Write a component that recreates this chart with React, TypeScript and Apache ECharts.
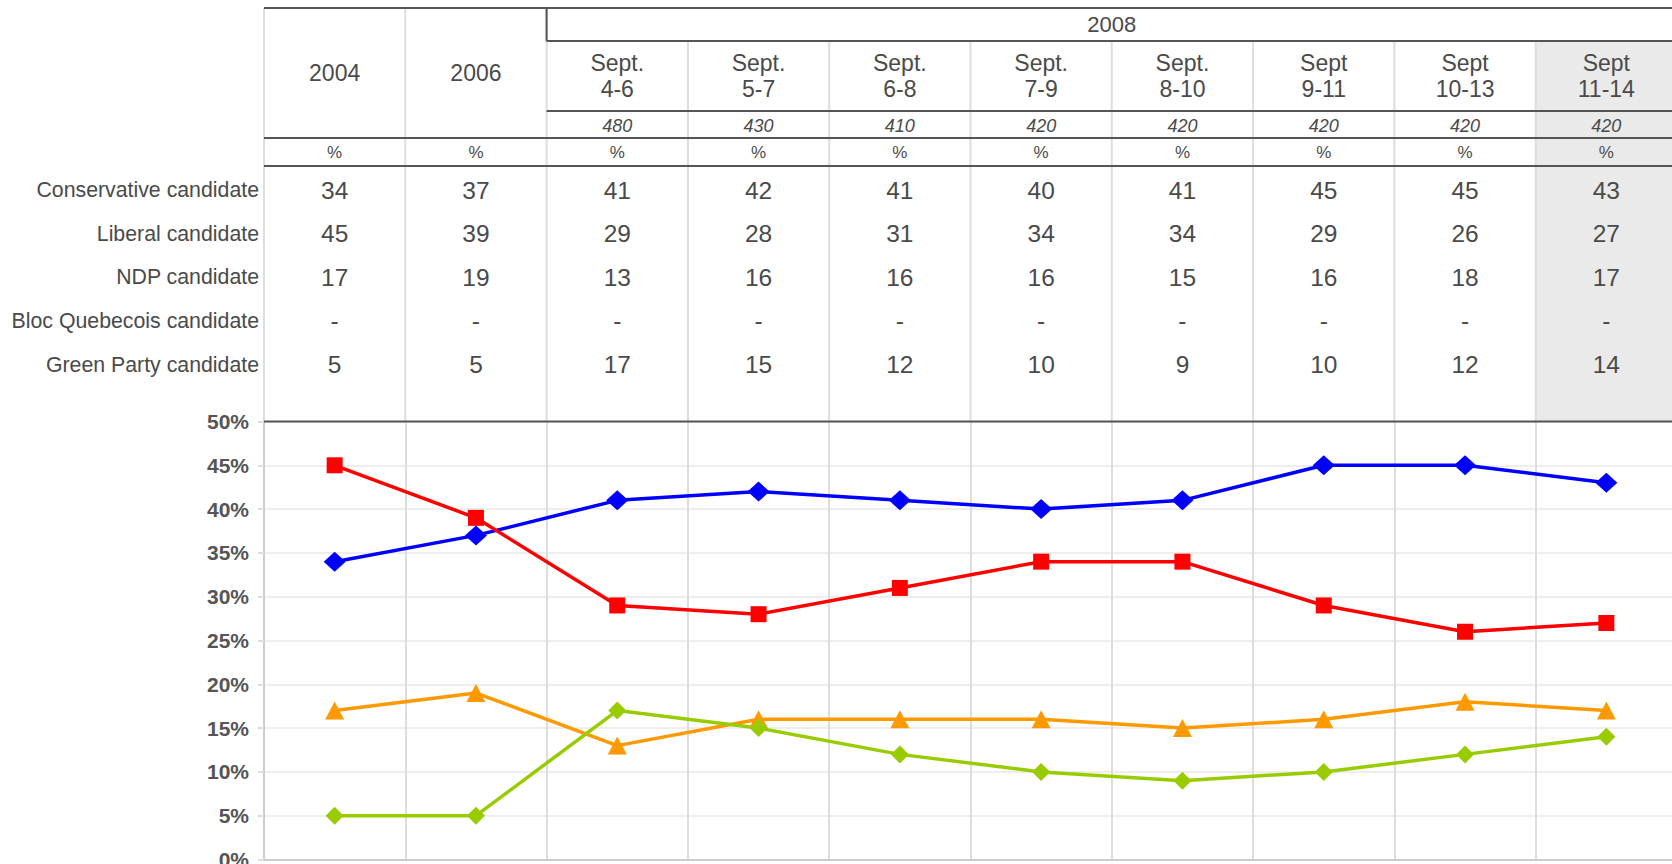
import React, { useEffect, useRef } from 'react';
import * as echarts from 'echarts';

// ---------- data ----------
const columnHeaders = ['2004', '2006', 'Sept.\n4-6', 'Sept.\n5-7', 'Sept.\n6-8', 'Sept.\n7-9', 'Sept.\n8-10', 'Sept\n9-11', 'Sept\n10-13', 'Sept\n11-14'];
const groupLabel = '2008';
const groupStartIndex = 2;
const highlightIndex = 9;
const sampleSizes = ['', '', '480', '430', '410', '420', '420', '420', '420', '420'];
const unitRow = ['%', '%', '%', '%', '%', '%', '%', '%', '%', '%'];
const rowLabels = ['Conservative candidate', 'Liberal candidate', 'NDP candidate', 'Bloc Quebecois candidate', 'Green Party candidate'];
const conservative = [34, 37, 41, 42, 41, 40, 41, 45, 45, 43];
const liberal = [45, 39, 29, 28, 31, 34, 34, 29, 26, 27];
const ndp = [17, 19, 13, 16, 16, 16, 15, 16, 18, 17];
const bloc = ['-', '-', '-', '-', '-', '-', '-', '-', '-', '-'];
const green = [5, 5, 17, 15, 12, 10, 9, 10, 12, 14];
const yMin = 0;
const yMax = 50;
const yInterval = 5;

// ---------- layout ----------
const W = 1680;
const H = 870;
const LEFT = 264;
const COLW = 141.3;
const TABLE_TOP = 8;
const GROUP_BOTTOM = 41;
const HEAD_BOTTOM = 111;
const SAMPLE_BOTTOM = 138;
const UNIT_BOTTOM = 166;
const CHART_TOP = 421.5;
const CHART_BOTTOM = 860;
const ROW_Y = [190, 233.5, 277, 320.5, 364.5];

const FONT = 'Arial, "Liberation Sans", Helvetica, sans-serif';
const TEXT = '#4a4a4a';
const DARK = '#555555';
const LIGHT = '#dddddd';

const colCenter = (i: number) => LEFT + COLW * (i + 0.5);
const colEdge = (i: number) => LEFT + COLW * i;

function buildGraphics() {
  const g: any[] = [];
  g.push({
    type: 'rect', z: 1, silent: true,
    shape: { x: colEdge(highlightIndex), y: GROUP_BOTTOM, width: W - colEdge(highlightIndex), height: CHART_TOP - GROUP_BOTTOM },
    style: { fill: '#eaeaea' },
  });
  for (let i = 0; i <= columnHeaders.length; i++) {
    const y1 = i < groupStartIndex + 1 ? TABLE_TOP : GROUP_BOTTOM;
    g.push({
      type: 'line', z: 2, silent: true,
      shape: { x1: colEdge(i), y1, x2: colEdge(i), y2: CHART_TOP },
      style: { stroke: LIGHT, lineWidth: 2 },
    });
  }
  const rules: [number, number][] = [
    [TABLE_TOP, LEFT],
    [GROUP_BOTTOM, colEdge(groupStartIndex)],
    [HEAD_BOTTOM, colEdge(groupStartIndex)],
    [SAMPLE_BOTTOM, LEFT],
    [UNIT_BOTTOM, LEFT],
    [CHART_TOP, LEFT],
  ];
  rules.forEach(([y, x]) => {
    g.push({
      type: 'line', z: 10, silent: true,
      shape: { x1: x, y1: y, x2: W, y2: y },
      style: { stroke: DARK, lineWidth: 2 },
    });
  });
  g.push({
    type: 'line', z: 10, silent: true,
    shape: { x1: colEdge(groupStartIndex), y1: TABLE_TOP, x2: colEdge(groupStartIndex), y2: GROUP_BOTTOM },
    style: { stroke: DARK, lineWidth: 2 },
  });
  g.push({
    type: 'text', z: 11, silent: true,
    x: (colEdge(groupStartIndex) + colEdge(columnHeaders.length)) / 2, y: (TABLE_TOP + GROUP_BOTTOM) / 2,
    style: { text: groupLabel, fill: TEXT, fontSize: 22, fontFamily: FONT, align: 'center', verticalAlign: 'middle' },
  });
  columnHeaders.forEach((h, i) => {
    const yc = i < groupStartIndex ? (TABLE_TOP + SAMPLE_BOTTOM) / 2 : (GROUP_BOTTOM + HEAD_BOTTOM) / 2;
    g.push({
      type: 'text', z: 11, silent: true,
      x: colCenter(i), y: yc,
      style: { text: h, fill: TEXT, fontSize: 23, lineHeight: 26, fontFamily: FONT, align: 'center', verticalAlign: 'middle' },
    });
    if (sampleSizes[i]) {
      g.push({
        type: 'text', z: 11, silent: true,
        x: colCenter(i), y: (HEAD_BOTTOM + SAMPLE_BOTTOM) / 2 + 1,
        style: { text: sampleSizes[i], fill: TEXT, fontSize: 18, fontStyle: 'italic', fontFamily: FONT, align: 'center', verticalAlign: 'middle' },
      });
    }
    g.push({
      type: 'text', z: 11, silent: true,
      x: colCenter(i), y: (SAMPLE_BOTTOM + UNIT_BOTTOM) / 2,
      style: { text: unitRow[i], fill: TEXT, fontSize: 17, fontFamily: FONT, align: 'center', verticalAlign: 'middle' },
    });
  });
  const rows = [conservative, liberal, ndp, bloc, green];
  rows.forEach((vals, r) => {
    g.push({
      type: 'text', z: 11, silent: true,
      x: LEFT - 5, y: ROW_Y[r],
      style: { text: rowLabels[r], fill: TEXT, fontSize: 21.3, fontFamily: FONT, align: 'right', verticalAlign: 'middle' },
    });
    vals.forEach((v, i) => {
      g.push({
        type: 'text', z: 11, silent: true,
        x: colCenter(i), y: ROW_Y[r],
        style: { text: String(v), fill: TEXT, fontSize: 24.5, fontFamily: FONT, align: 'center', verticalAlign: 'middle' },
      });
    });
  });
  return g;
}

const seriesDefs = [
  { name: 'Conservative candidate', data: conservative, color: '#0000ff', symbol: 'diamond', size: [22, 20] },
  { name: 'Liberal candidate', data: liberal, color: '#ff0000', symbol: 'rect', size: [16, 16] },
  { name: 'NDP candidate', data: ndp, color: '#ff9900', symbol: 'triangle', size: [19, 18] },
  { name: 'Green Party candidate', data: green, color: '#99cc00', symbol: 'diamond', size: [18, 18] },
];

export default function App() {
  const ref = useRef<HTMLDivElement>(null);
  useEffect(() => {
    if (!ref.current) return;
    const chart = echarts.init(ref.current, undefined, { renderer: 'svg' });
    chart.setOption({
      animation: false,
      backgroundColor: '#ffffff',
      grid: {
        left: LEFT,
        top: CHART_TOP,
        width: COLW * columnHeaders.length,
        height: CHART_BOTTOM - CHART_TOP,
        containLabel: false,
      },
      xAxis: {
        type: 'category',
        data: columnHeaders,
        boundaryGap: true,
        axisLabel: { show: false, interval: 0 },
        axisTick: { show: false },
        axisLine: { show: true, lineStyle: { color: '#cccccc', width: 2 } },
        splitLine: { show: true, interval: 0, lineStyle: { color: LIGHT, width: 2 } },
      },
      yAxis: {
        type: 'value',
        min: yMin,
        max: yMax,
        interval: yInterval,
        axisLabel: {
          formatter: '{value}%',
          fontSize: 21,
          fontWeight: 'bold',
          color: '#555555',
          fontFamily: FONT,
          margin: 15,
        },
        axisTick: { show: true, length: 6, lineStyle: { color: '#dddddd', width: 2 } },
        axisLine: { show: true, lineStyle: { color: '#cccccc', width: 2 } },
        splitLine: { show: true, lineStyle: { color: '#eeeeee', width: 2 } },
      },
      graphic: buildGraphics(),
      series: seriesDefs.map((s) => ({
        name: s.name,
        type: 'line',
        data: s.data,
        symbol: s.symbol,
        symbolSize: s.size,
        showSymbol: true,
        lineStyle: { color: s.color, width: 3.5 },
        itemStyle: { color: s.color },
        emphasis: { disabled: true },
      })),
    });
    return () => chart.dispose();
  }, []);
  return (
    <div style={{ position: 'fixed', left: 0, top: 0, width: 1672, height: 864, overflow: 'hidden', background: '#fff' }}>
      <div ref={ref} style={{ width: W, height: H }} />
    </div>
  );
}
